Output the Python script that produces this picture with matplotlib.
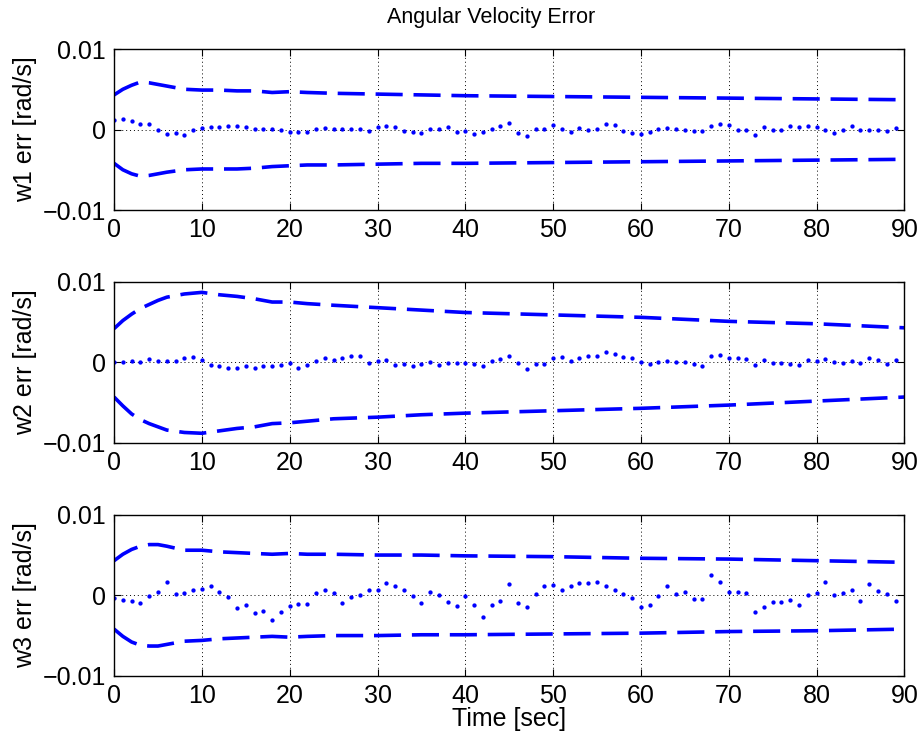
import numpy as np
import matplotlib
matplotlib.use("Agg")
import matplotlib.pyplot as plt

plt.rcParams['font.family'] = ['Liberation Sans', 'DejaVu Sans']

# time axis of the sampled error (1 s steps)
t_err = np.arange(0, 90)

# errors, in 1e-3 rad/s
w1_err = [1.15, 1.27, 1.1, 0.7, 0.66, 0.0, -0.53, -0.45, -0.7, -0.12,
          0.2, 0.29, 0.29, 0.45, 0.5, 0.3, 0.12, 0.12, 0.1, 0.0,
          -0.25, -0.3, -0.25, 0.04, 0.2, 0.04, 0.04, 0.04, 0.04, -0.16,
          0.3, 0.45, 0.3, -0.16, -0.25, -0.4, 0.04, 0.04, 0.3, -0.3,
          -0.16, -0.5, -0.3, 0.04, 0.45, 0.8, -0.45, -0.8, 0.08, 0.08,
          0.6, 0.08, -0.3, 0.25, -0.04, 0.08, 0.66, 0.57, -0.2, -0.37,
          -0.57, -0.3, 0.08, 0.16, 0.04, -0.04, -0.16, -0.2, 0.45, 0.7,
          0.53, -0.04, -0.04, -0.7, 0.3, 0.0, 0.0, 0.45, 0.3, 0.4,
          0.3, 0.0, -0.37, -0.1, 0.45, -0.1, 0.0, 0.0, -0.16, 0.2]
w2_err = [0.0, 0.0, 0.12, 0.0, 0.37, 0.2, 0.12, 0.16, 0.57, 0.68,
          0.28, -0.3, -0.45, -0.75, -0.65, -0.5, -0.72, -0.41, -0.41, -0.27,
          -0.12, -0.7, -0.35, 0.18, 0.55, 0.36, 0.55, 0.75, 0.78, -0.02,
          0.16, 0.25, -0.3, -0.2, -0.5, -0.25, 0.04, -0.3, -0.12, -0.12,
          -0.04, -0.16, -0.5, 0.12, 0.4, 0.8, -0.04, -0.8, -0.25, -0.16,
          0.5, 0.7, 0.16, 0.6, 0.8, 0.8, 1.3, 1.1, 0.66, 0.5,
          0.1, -0.2, 0.1, 0.12, 0.0, 0.0, -0.25, -0.4, 0.8, 0.9,
          0.6, 0.6, 0.37, -0.3, 0.25, -0.04, -0.1, -0.25, -0.3, 0.3,
          0.2, 0.4, 0.0, -0.12, 0.12, -0.1, 0.6, 0.3, -0.2, 0.3]
w3_err = [-0.3, -0.6, -0.74, -0.9, -0.04, 0.4, 1.6, 0.16, 0.25, 0.6,
          0.74, 1.2, 0.4, -0.16, -1.6, -1.2, -2.2, -1.9, -3.1, -2.1,
          -1.3, -1.1, -1.1, 0.3, 0.7, 0.3, -1.0, -0.2, 0.0, 0.6,
          0.6, 1.5, 1.1, 0.66, -0.04, -1.0, 0.4, 0.1, -0.8, -1.3,
          -0.12, -1.2, -2.7, -1.2, -0.7, 1.4, -0.9, -1.5, 0.16, 1.2,
          1.3, 0.7, 1.2, 1.5, 1.5, 1.7, 1.2, 0.6, 0.2, -0.3,
          -1.5, -1.2, -0.12, 1.1, 0.2, 0.4, -0.5, -0.5, 2.5, 1.7,
          0.45, 0.45, 0.25, -2.1, -1.4, -0.8, -0.8, -0.6, -1.2, 0.1,
          0.3, 1.6, 0.0, 0.25, 0.7, -0.66, 1.4, 0.5, 0.2, -0.7]

# 3-sigma bounds, in 1e-3 rad/s
t_bnd = [0, 1, 2, 3, 4, 5, 6, 8, 10, 12, 14, 16, 18, 20, 22, 25, 30, 35, 40, 50, 60, 70, 80, 90]
w1_up = [4.3, 5.0, 5.5, 5.9, 5.8, 5.6, 5.4, 5.0, 4.9, 4.9, 4.8, 4.8, 4.6, 4.7, 4.6, 4.5, 4.4, 4.3, 4.2, 4.1, 4.0, 3.9, 3.8, 3.7]
w1_lo = [-4.2, -5.0, -5.5, -5.8, -5.7, -5.5, -5.3, -5.0, -4.9, -4.9, -4.9, -4.8, -4.6, -4.5, -4.4, -4.4, -4.3, -4.2, -4.2, -4.1, -4.0, -3.9, -3.8, -3.7]
w2_up = [4.2, 5.2, 6.0, 6.7, 7.2, 7.7, 8.1, 8.5, 8.7, 8.4, 8.2, 7.9, 7.5, 7.5, 7.3, 7.1, 6.8, 6.5, 6.2, 5.9, 5.6, 5.1, 4.8, 4.3]
w2_lo = [-4.3, -5.4, -6.4, -7.1, -7.6, -8.0, -8.4, -8.7, -8.8, -8.5, -8.2, -8.0, -7.6, -7.5, -7.3, -7.0, -6.8, -6.5, -6.3, -6.0, -5.7, -5.3, -4.8, -4.3]
w3_up = [4.3, 5.1, 5.7, 6.1, 6.3, 6.3, 6.1, 5.6, 5.6, 5.4, 5.3, 5.2, 5.1, 5.2, 5.1, 5.1, 5.0, 5.0, 4.9, 4.8, 4.6, 4.5, 4.3, 4.1]
w3_lo = [-4.2, -5.1, -5.8, -6.2, -6.3, -6.3, -6.1, -5.7, -5.6, -5.4, -5.3, -5.2, -5.1, -5.2, -5.1, -5.0, -5.0, -4.9, -4.9, -4.8, -4.7, -4.5, -4.4, -4.2]

ylabels = ["w1 err [rad/s]", "w2 err [rad/s]", "w3 err [rad/s]"]
errs = [w1_err, w2_err, w3_err]
ups = [w1_up, w2_up, w3_up]
los = [w1_lo, w2_lo, w3_lo]

fig = plt.figure(figsize=(9.2, 7.37), dpi=100)
bottoms = [0.715, 0.399, 0.083]

for i in range(3):
    ax = fig.add_axes([0.124, bottoms[i], 0.859, 0.2185])
    ax.plot(t_bnd, np.array(ups[i]) * 1e-3, color='b', lw=2.6, dashes=(7.5, 3))
    ax.plot(t_bnd, np.array(los[i]) * 1e-3, color='b', lw=2.6, dashes=(7.5, 3))
    ax.plot(t_err, np.array(errs[i]) * 1e-3, 'o', color='b', ms=3.1, mew=0)
    ax.set_xlim(0, 90)
    ax.set_ylim(-0.01, 0.01)
    ax.set_xticks(np.arange(0, 91, 10))
    ax.set_yticks([-0.01, 0, 0.01])
    ax.set_yticklabels(["\u22120.01", "0", "0.01"])
    ax.grid(True, color='k', linestyle=(0, (1, 3)), lw=0.7)
    ax.tick_params(direction='in', top=True, right=True, labelsize=18, length=5, pad=6)
    ax.set_ylabel(ylabels[i], fontsize=18, labelpad=4)
    for sp in ax.spines.values():
        sp.set_linewidth(1.0)
    if i == 2:
        ax.set_xlabel("Time [sec]", fontsize=18, labelpad=-1)

fig.text(491 / 920, 1 - 18 / 737, "Angular Velocity Error", fontsize=15.5,
         ha='center', va='center')

fig.savefig("out.png", dpi=100)
